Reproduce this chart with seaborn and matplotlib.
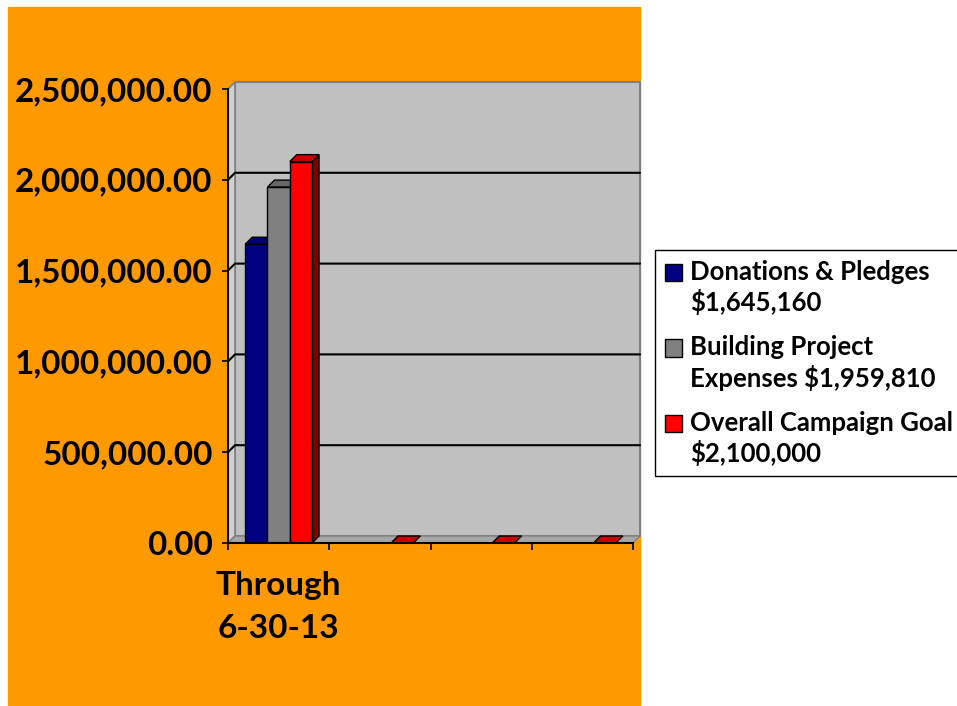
import numpy as np
import pandas as pd
import seaborn as sns
import matplotlib.pyplot as plt
from matplotlib.patches import Rectangle, Polygon
from matplotlib.legend_handler import HandlerPatch

# data
periods = ["Through\n6-30-13", " ", "  ", "   "]
series = [
    "Donations & Pledges\n$1,645,160",
    "Building Project\nExpenses $1,959,810",
    "Overall Campaign Goal\n$2,100,000",
]
donations = [1645160, 0, 0, 0]
expenses = [1959810, 0, 0, 0]
goal = [2100000, 0, 0, 0]
colors = ["#000080", "#808080", "#FF0000"]
y_ticks = [0, 500000, 1000000, 1500000, 2000000, 2500000]

df = pd.DataFrame({
    "period": periods * 3,
    "series": [s for s in series for _ in periods],
    "value": donations + expenses + goal,
})

W, H = 957, 706
sns.set_style("white")
plt.rcParams["font.family"] = ["Lato", "DejaVu Sans"]
plt.rcParams["font.weight"] = "bold"
plt.rcParams["text.color"] = "black"
plt.rcParams["xtick.color"] = "black"
plt.rcParams["ytick.color"] = "black"

fig = plt.figure(figsize=(W / 100, H / 100), dpi=100)
fig.patch.set_facecolor("white")
fig.patches.append(Rectangle((8 / W, 1 - 705 / H), 632 / W, 698 / H,
                             transform=fig.transFigure, color="#FF9900", zorder=-10))

ax = fig.add_axes([228 / W, (H - 543) / H, 405 / W, 454 / H])
ax.patch.set_visible(False)

sns.barplot(data=df, x="period", y="value", hue="series", palette=colors,
            saturation=1, width=0.66, gap=0, edgecolor="black", linewidth=1, ax=ax,
            legend=False, zorder=3)
bars = [p for p in ax.patches if isinstance(p, Rectangle)]

ymax = y_ticks[-1]
ax.set_xlim(-0.5, len(periods) - 0.5)
ax.set_ylim(0, ymax)
xmin, xmax = ax.get_xlim()

# depth offset of the 3d look, ~7 px
dx = 7 * (xmax - xmin) / 405
dy = 7 * ymax / 454

def darker(c, f):
    r, g, b = plt.matplotlib.colors.to_rgb(c)
    return (r * f, g * f, b * f)

# back wall, left wall and floor
ax.add_patch(Polygon([(xmin + dx, dy), (xmax + dx, dy), (xmax + dx, ymax + dy), (xmin + dx, ymax + dy)],
                     facecolor="#C0C0C0", edgecolor="#808080", lw=1.5, zorder=0, clip_on=False))
ax.add_patch(Polygon([(xmin, 0), (xmin + dx, dy), (xmin + dx, ymax + dy), (xmin, ymax)],
                     facecolor="#D0D0D0", edgecolor="#808080", lw=1.2, zorder=0.5, clip_on=False))
ax.add_patch(Polygon([(xmin, 0), (xmax, 0), (xmax + dx, dy), (xmin + dx, dy)],
                     facecolor="#A6A6A6", edgecolor="#808080", lw=1, zorder=0.5, clip_on=False))
for v in y_ticks[1:-1]:
    ax.plot([xmin, xmin + dx, xmax + dx], [v, v + dy, v + dy], color="black", lw=1.5,
            zorder=1, clip_on=False)

# side and top faces of the bars
n_cat = len(periods)
for i, p in enumerate(bars[:len(series) * n_cat]):
    x0, w, h = p.get_x(), p.get_width(), p.get_height()
    fc = p.get_facecolor()
    last = i // n_cat == len(series) - 1
    if h > 0:
        ax.add_patch(Polygon([(x0 + w, 0), (x0 + w + dx, dy), (x0 + w + dx, h + dy), (x0 + w, h)],
                             facecolor=darker(fc, 0.5), edgecolor="black", lw=1, zorder=2,
                             clip_on=False))
    if h > 0 or last:
        ax.add_patch(Polygon([(x0, h), (x0 + w, h), (x0 + w + dx, h + dy), (x0 + dx, h + dy)],
                             facecolor=darker(fc, 0.8), edgecolor="black", lw=1, zorder=2,
                             clip_on=False))

for s in ["top", "right"]:
    ax.spines[s].set_visible(False)
for s in ["left", "bottom"]:
    ax.spines[s].set_color("black")
    ax.spines[s].set_linewidth(1.5)
    ax.spines[s].set_zorder(4)

ax.set_yticks(y_ticks)
ax.set_yticklabels([f"{v:,.2f}" for v in y_ticks])
ax.tick_params(axis="y", direction="out", length=4, width=1.2, color="black",
               labelsize=24, pad=7, left=True)
ax.set_xticks(range(n_cat))
ax.set_xticklabels(periods, linespacing=1.6)
ax.set_xticks(np.arange(-0.5, n_cat, 1), minor=True)
ax.tick_params(axis="x", which="major", length=0, labelsize=24, pad=20)
ax.tick_params(axis="x", which="minor", direction="out", length=5, width=1.2,
               color="black", bottom=True)
for t in ax.get_xticklabels() + ax.get_yticklabels():
    t.set_fontweight("bold")
ax.set_xlabel("")
ax.set_ylabel("")

fs = 18.5

def top_square(legend, orig_handle, xdescent, ydescent, width, height, fontsize):
    sq = 0.68 * fontsize
    return Rectangle((-xdescent, -ydescent + 0.62 * fontsize), sq, sq)

handles = [Rectangle((0, 0), 1, 1, facecolor=c, edgecolor="black", lw=1) for c in colors]
leg = fig.legend(handles, series, loc="upper left", bbox_to_anchor=(655 / W, 1 - 250 / H),
                 frameon=True, fancybox=False, edgecolor="black", framealpha=1,
                 prop={"size": fs, "weight": "bold"}, handlelength=0.68, handleheight=0.68,
                 handletextpad=0.3, labelspacing=0.78, borderpad=0.38, borderaxespad=0,
                 handler_map={Rectangle: HandlerPatch(patch_func=top_square)})
leg.get_frame().set_linewidth(1)
for t in leg.get_texts():
    t.set_linespacing(1.25)

fig.savefig("out.png", dpi=100)
